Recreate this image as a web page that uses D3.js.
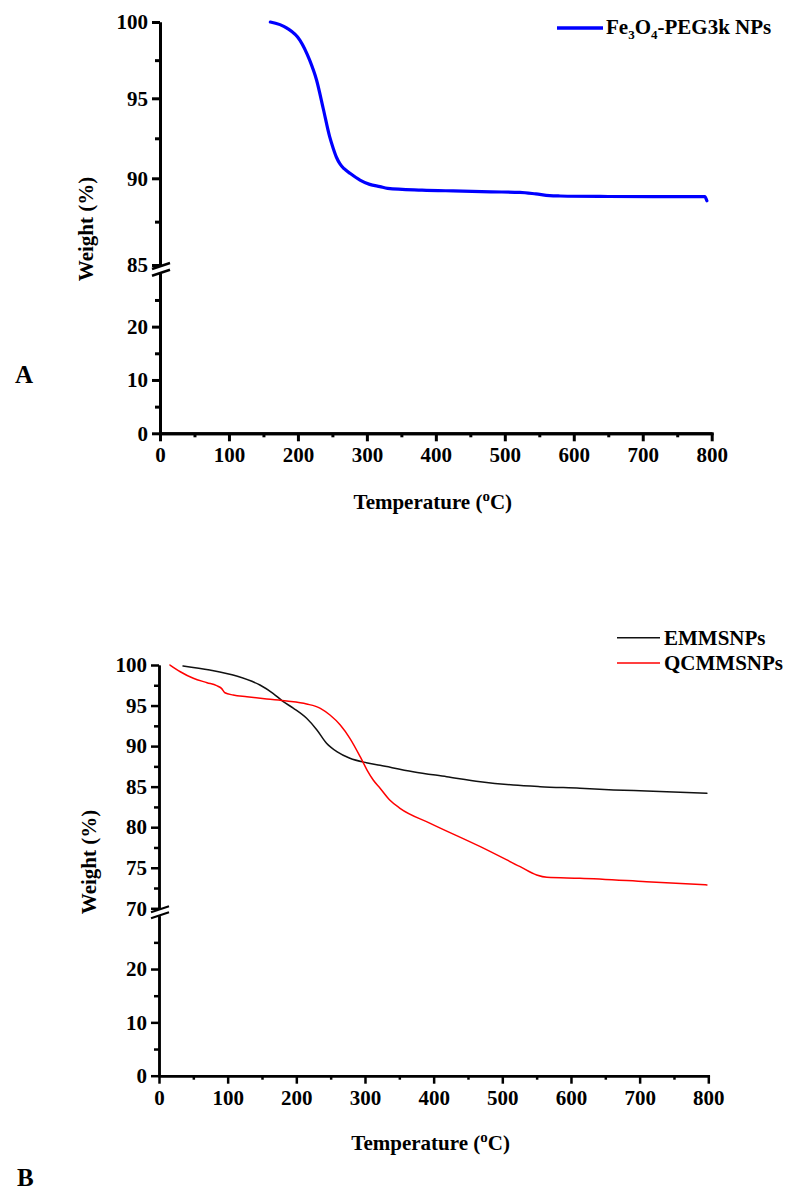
<!DOCTYPE html>
<html>
<head>
<meta charset="utf-8">
<script src="https://cdn.jsdelivr.net/npm/d3@7"></script>
<style>
  html, body { margin: 0; padding: 0; background: #fff; }
  svg { display: block; }
  text { font-family: "Liberation Serif", "Times New Roman", serif; font-weight: bold; fill: #000; }
</style>
</head>
<body>
<svg id="chart" width="785" height="1191"></svg>
<script>
// ---------- Data ----------
// Panel A : Fe3O4-PEG3k NPs
const tempA   = [160, 184, 203, 217, 227, 237, 246, 251, 256, 261, 267, 276, 290, 304, 319, 330, 380, 425, 480, 522, 545, 565, 580, 650, 715, 790, 793];
const weightA = [100, 99.6, 98.8, 97.5, 96.2, 94.3, 92.6, 91.9, 91.3, 90.9, 90.6, 90.3, 89.9, 89.65, 89.52, 89.42, 89.32, 89.27, 89.22, 89.19, 89.1, 89.0, 88.98, 88.95, 88.94, 88.94, 88.7];

// Panel B : EMMSNPs
const tempE   = [35, 74, 113, 147, 166, 181, 196, 215, 230, 244, 259, 278, 302, 322, 370, 419, 468, 516, 555, 613, 662, 710, 798];
const weightE = [99.88, 99.38, 98.64, 97.53, 96.51, 95.48, 94.66, 93.43, 91.99, 90.35, 89.31, 88.5, 87.95, 87.63, 86.85, 86.23, 85.61, 85.2, 85.0, 84.8, 84.6, 84.46, 84.18];

// Panel B : QCMMSNPs
const tempQ   = [16, 31, 50, 70, 84, 91, 96, 108, 128, 157, 186, 215, 235, 249, 264, 278, 293, 303, 312, 322, 336, 351, 395, 468, 526, 550, 565, 613, 710, 798];
const weightQ = [100, 99.17, 98.36, 97.82, 97.45, 97.12, 96.58, 96.3, 96.09, 95.81, 95.56, 95.19, 94.66, 93.83, 92.6, 90.96, 88.7, 87.05, 85.82, 84.8, 83.35, 82.33, 80.48, 77.6, 75.13, 74.11, 73.82, 73.7, 73.28, 72.88];

// Tick values
const xMajorTicks = [0, 100, 200, 300, 400, 500, 600, 700, 800];
const xMinorTicks = [50, 150, 250, 350, 450, 550, 650, 750];
const yUpperTicksA = [85, 90, 95, 100];
const yUpperMinorA = [87.5, 92.5, 97.5];
const yUpperTicksB = [70, 75, 80, 85, 90, 95, 100];
const yUpperMinorB = [72.5, 77.5, 82.5, 87.5, 92.5, 97.5];
const yLowerTicks = [0, 10, 20];
const yLowerMinor = [5, 15, 25];

// ---------- Drawing ----------
const svg = d3.select("#chart");
const FS = "21px";

function panel(cfg) {
  const g = svg.append("g");
  const x = d3.scaleLinear().domain([0, 800]).range([cfg.x0, cfg.x1]);
  const yUp = d3.scaleLinear().domain(cfg.upDomain).range(cfg.upRange);
  const yLo = d3.scaleLinear().domain([0, 30]).range([cfg.loBottom, cfg.loTop]);
  const sw = cfg.axisWidth;

  function styleAxis(sel) {
    sel.selectAll("path.domain").attr("stroke", "#000").attr("stroke-width", sw);
    sel.selectAll(".tick line").attr("stroke", "#000").attr("stroke-width", sw);
    sel.selectAll(".tick text").style("font-family", '"Liberation Serif", serif')
      .style("font-weight", "bold").style("font-size", FS).attr("fill", "#000");
  }

  // Upper y segment
  const gUp = g.append("g").attr("transform", `translate(${cfg.x0},0)`)
    .call(d3.axisLeft(yUp).tickValues(cfg.upTicks).tickSize(8).tickSizeOuter(0).tickPadding(4).tickFormat(d3.format("d")));
  styleAxis(gUp);
  const gUpMin = g.append("g").attr("transform", `translate(${cfg.x0},0)`)
    .call(d3.axisLeft(yUp).tickValues(cfg.upMinor).tickSize(5).tickSizeOuter(0).tickFormat(""));
  styleAxis(gUpMin);

  // Lower y segment
  const gLo = g.append("g").attr("transform", `translate(${cfg.x0},0)`)
    .call(d3.axisLeft(yLo).tickValues(yLowerTicks).tickSize(8).tickSizeOuter(0).tickPadding(4).tickFormat(d3.format("d")));
  styleAxis(gLo);
  const gLoMin = g.append("g").attr("transform", `translate(${cfg.x0},0)`)
    .call(d3.axisLeft(yLo).tickValues(yLowerMinor).tickSize(5).tickSizeOuter(0).tickFormat(""));
  styleAxis(gLoMin);

  // Break marks
  const yb1 = yUp(cfg.upDomain[0]) + 1;
  const yb2 = yLo(30) - 0.5;
  [yb1, yb2].forEach(yb => {
    g.append("line")
      .attr("x1", cfg.x0 - 8).attr("y1", yb + 3)
      .attr("x2", cfg.x0 + 10).attr("y2", yb - 3)
      .attr("stroke", "#000").attr("stroke-width", sw - 0.5);
  });

  // X axis
  const gx = g.append("g").attr("transform", `translate(0,${yLo(0)})`)
    .call(d3.axisBottom(x).tickValues(xMajorTicks).tickSize(8).tickSizeOuter(0).tickPadding(6).tickFormat(d3.format("d")));
  styleAxis(gx);
  gx.select("path.domain").attr("stroke-linecap", "square");
  const gxMin = g.append("g").attr("transform", `translate(0,${yLo(0)})`)
    .call(d3.axisBottom(x).tickValues(xMinorTicks).tickSize(4).tickSizeOuter(0).tickFormat(""));
  styleAxis(gxMin);

  // Axis titles
  const xt = g.append("text").attr("x", (cfg.x0 + cfg.x1) / 2 - 3).attr("y", cfg.xTitleY)
    .attr("text-anchor", "middle").style("font-size", FS);
  xt.append("tspan").text("Temperature (");
  xt.append("tspan").text("o").style("font-size", "15px").attr("dy", -8);
  xt.append("tspan").text("C)").attr("dy", 8);

  g.append("text")
    .attr("transform", `translate(${cfg.yTitleX},${cfg.yTitleY}) rotate(-90)`)
    .attr("text-anchor", "middle").style("font-size", FS)
    .text("Weight (%)");

  // Panel letter
  g.append("text").attr("x", cfg.letterX).attr("y", cfg.letterY)
    .style("font-size", "25px").text(cfg.letter);

  // Series
  const line = d3.line().x(d => x(d[0])).y(d => yUp(d[1])).curve(d3.curveMonotoneX);
  cfg.series.forEach(s => {
    g.append("path").datum(d3.zip(s.t, s.w))
      .attr("d", line).attr("fill", "none")
      .attr("stroke", s.color).attr("stroke-width", s.width)
      .attr("stroke-linejoin", "round").attr("stroke-linecap", "round");
  });
  return g;
}

// Panel A
const gA = panel({
  x0: 160, x1: 711.7,
  upDomain: [85, 90, 95, 100], upRange: [265, 178.3, 98.3, 22],
  upTicks: yUpperTicksA, upMinor: yUpperMinorA,
  loBottom: 433.3, loTop: 273.3,
  axisWidth: 3,
  xTitleY: 509, yTitleX: 93, yTitleY: 229,
  letter: "A", letterX: 15, letterY: 383,
  series: [{ t: tempA, w: weightA, color: "#0000ff", width: 3.2 }]
});

// Legend A
gA.append("line").attr("x1", 557).attr("x2", 603).attr("y1", 28).attr("y2", 28)
  .attr("stroke", "#0000ff").attr("stroke-width", 3.5);
const legA = gA.append("text").attr("x", 606).attr("y", 34).style("font-size", FS);
legA.append("tspan").text("Fe");
legA.append("tspan").text("3").style("font-size", "13px").attr("dy", 5);
legA.append("tspan").text("O").attr("dy", -5);
legA.append("tspan").text("4").style("font-size", "13px").attr("dy", 5);
legA.append("tspan").text("-PEG3k NPs").attr("dy", -5);

// Panel B
const gB = panel({
  x0: 159, x1: 708.3,
  upDomain: [70, 100], upRange: [908.3, 665],
  upTicks: yUpperTicksB, upMinor: yUpperMinorB,
  loBottom: 1075.7, loTop: 915.7,
  axisWidth: 2.5,
  xTitleY: 1150, yTitleX: 96, yTitleY: 862,
  letter: "B", letterX: 17, letterY: 1186,
  series: [
    { t: tempE, w: weightE, color: "#111111", width: 1.5 },
    { t: tempQ, w: weightQ, color: "#ff0000", width: 1.5 }
  ]
});

// Legend B
const legB = [{ name: "EMMSNPs", color: "#111111", y: 637.7 }, { name: "QCMMSNPs", color: "#ff0000", y: 663 }];
legB.forEach(l => {
  gB.append("line").attr("x1", 617).attr("x2", 660).attr("y1", l.y).attr("y2", l.y)
    .attr("stroke", l.color).attr("stroke-width", 1.5);
  gB.append("text").attr("x", 664).attr("y", l.y + 7).style("font-size", FS).text(l.name);
});
</script>
</body>
</html>
